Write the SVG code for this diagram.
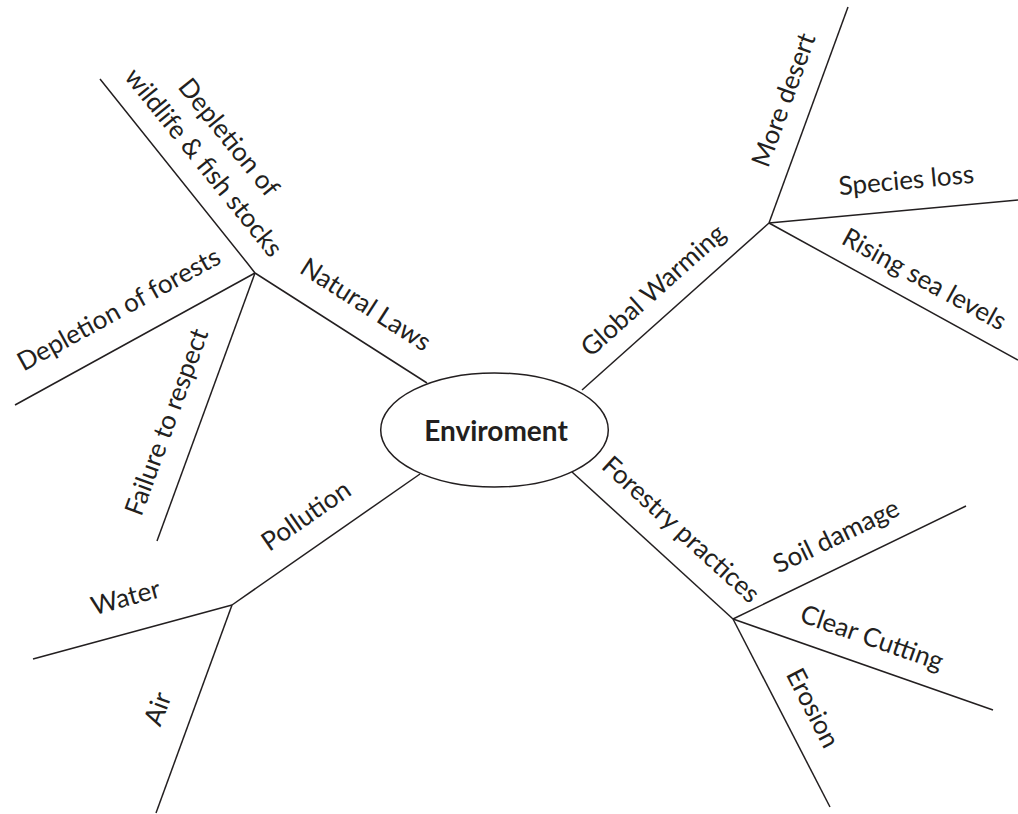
<svg xmlns="http://www.w3.org/2000/svg" width="1018" height="814" viewBox="0 0 1018 814">
<style>
.ln{stroke:#231f20;stroke-width:1.5;fill:none;stroke-linejoin:round}
.lb{font-family:Lato,"Liberation Sans",sans-serif;font-size:26px;fill:#231f20;text-anchor:middle}
.ct{font-family:Lato,"Liberation Sans",sans-serif;font-size:28px;font-weight:bold;fill:#231f20;text-anchor:middle}
</style>
<rect width="1018" height="814" fill="#fff"/>
<g id="connectors">
<line class="ln" x1="427" y1="383" x2="255" y2="273"/>
<polyline class="ln" points="100,79 248,264 255,273"/>
<line class="ln" x1="255" y1="273" x2="15" y2="405"/>
<line class="ln" x1="255" y1="273" x2="157" y2="541"/>
<line class="ln" x1="582" y1="390" x2="769" y2="223"/>
<line class="ln" x1="769" y1="223" x2="848" y2="7"/>
<line class="ln" x1="769" y1="223" x2="1018" y2="200"/>
<line class="ln" x1="769" y1="223" x2="1018" y2="360"/>
<line class="ln" x1="420" y1="474" x2="232" y2="605"/>
<line class="ln" x1="232" y1="605" x2="33" y2="659"/>
<line class="ln" x1="232" y1="605" x2="156" y2="813"/>
<line class="ln" x1="572" y1="472" x2="733" y2="619"/>
<line class="ln" x1="733" y1="619" x2="966" y2="506"/>
<line class="ln" x1="733" y1="619" x2="993" y2="710"/>
<line class="ln" x1="733" y1="619" x2="830" y2="807"/>
</g>
<g id="center">
<ellipse class="ln" cx="494.5" cy="430" rx="113.8" ry="57"/>
<text class="ct" x="496" y="441">Enviroment</text>
</g>
<g id="natural-laws"><text class="lb" transform="translate(361,312) rotate(32.6)">Natural Laws</text></g>
<g id="depletion-wildlife">
<text class="lb" transform="translate(222,143) rotate(51)">Depletion of</text>
<text class="lb" transform="translate(197,168) rotate(51)">wildlife &amp; fish stocks</text>
</g>
<g id="depletion-forests"><text class="lb" transform="translate(123,317) rotate(-28.8)">Depletion of forests</text></g>
<g id="failure"><text class="lb" transform="translate(175,425) rotate(-69.9)">Failure to respect</text></g>
<g id="global-warming"><text class="lb" transform="translate(659,297) rotate(-41.8)">Global Warming</text></g>
<g id="more-desert"><text class="lb" transform="translate(792,103) rotate(-69.9)">More desert</text></g>
<g id="species-loss"><text class="lb" transform="translate(907,189) rotate(-5.3)">Species loss</text></g>
<g id="rising-sea"><text class="lb" transform="translate(920,287) rotate(28.8)">Rising sea levels</text></g>
<g id="pollution"><text class="lb" transform="translate(311,523) rotate(-34.7)">Pollution</text></g>
<g id="water"><text class="lb" transform="translate(128,606) rotate(-15.4)">Water</text></g>
<g id="air"><text class="lb" transform="translate(166,712) rotate(-69.8)">Air</text></g>
<g id="forestry"><text class="lb" transform="translate(675,536) rotate(42.4)">Forestry practices</text></g>
<g id="soil"><text class="lb" transform="translate(840,544) rotate(-25.9)">Soil damage</text></g>
<g id="clear-cutting"><text class="lb" transform="translate(869,646) rotate(19.3)">Clear Cutting</text></g>
<g id="erosion"><text class="lb" transform="translate(805,712) rotate(62.7)">Erosion</text></g>
</svg>
